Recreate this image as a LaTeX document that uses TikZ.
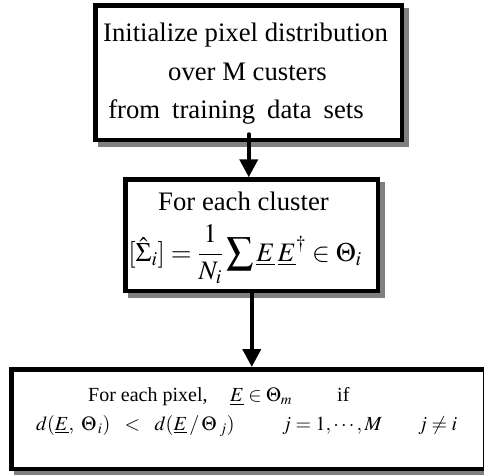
\documentclass[tikz,border=0pt]{standalone}
\usepackage{mathptmx}
\usepackage{fontspec}
\setmainfont{Liberation Serif}
\usetikzlibrary{arrows.meta,backgrounds}

\definecolor{shadowgray}{gray}{0.5}

\tikzset{
  stepbox/.style={draw=black, fill=white, line width=4.5pt, inner sep=0pt,
    rectangle, minimum width=#1},
  bigtext/.style={anchor=base, inner sep=0pt,
    font=\fontsize{26.7}{32}\selectfont},
  smalltext/.style={anchor=base west, inner sep=0pt,
    font=\fontsize{20}{24}\selectfont},
  flow/.style={line width=4pt, line cap=round,
    -{Triangle[width=18pt,length=18pt]}},
}

\begin{document}
\begin{tikzpicture}[x=1pt, y=-1pt]
\useasboundingbox (0,0) rectangle (484,474);

% the three process boxes
\node[stepbox=306.5pt, minimum height=134.5pt] (box1) at (248.75,72.75) {};
\node[stepbox=252.5pt, minimum height=111.5pt] (box2) at (251.75,235.25) {};
\node[stepbox=473.3pt, minimum height=99.5pt]  (box3) at (248.35,419) {};

% drop shadows behind the boxes
\begin{scope}[on background layer]
  \foreach \b in {box1,box2,box3}
    \fill[shadowgray] ([shift={(4.5,4.5)}]\b.north west) rectangle ([shift={(4.5,4.5)}]\b.south east);
\end{scope}

% texts of the first box
\node[bigtext] (t1a) at (245.5,41.7) {Initialize pixel distribution};
\node[bigtext] (t1b) at (247.5,80) {over M custers};
\node[bigtext] (t1c) at (236,118) {\spaceskip=12pt from training data sets};

% texts of the second box
\node[bigtext] (t2a) at (243.5,210) {For each cluster};
\node[bigtext] (t2b) at (245,261)
  {$\displaystyle [\hat{\Sigma}_i] = \frac{1}{N_i}\sum \underline{E}\,\underline{E}^{\dagger} \in \Theta_i$};

% texts of the third box: the condition, piece by piece
\node[smalltext] (t3a) at (88,401.5) {For each pixel,};
\node[smalltext] (t3b) at (230,401.5) {$\underline{E}\in\Theta_m$};
\node[smalltext] (t3c) at (337,401.5) {if};
\node[smalltext] (t3d) at (36,430)
  {$d(\underline{E},\ \Theta_{\,i})\ \ <\ \ d(\underline{E}\,/\,\Theta_{\;j})$};
\node[smalltext] (t3e) at (282,430) {$j=1,\cdots,M$};
\node[smalltext] (t3f) at (418,430) {$j\neq i$};

% connectors
\draw[flow] ([yshift=8pt]box1.south) -- (box1.south |- box2.north);
\draw[flow] (box2.south) -- (box2.south |- box3.north);
\end{tikzpicture}
\end{document}
